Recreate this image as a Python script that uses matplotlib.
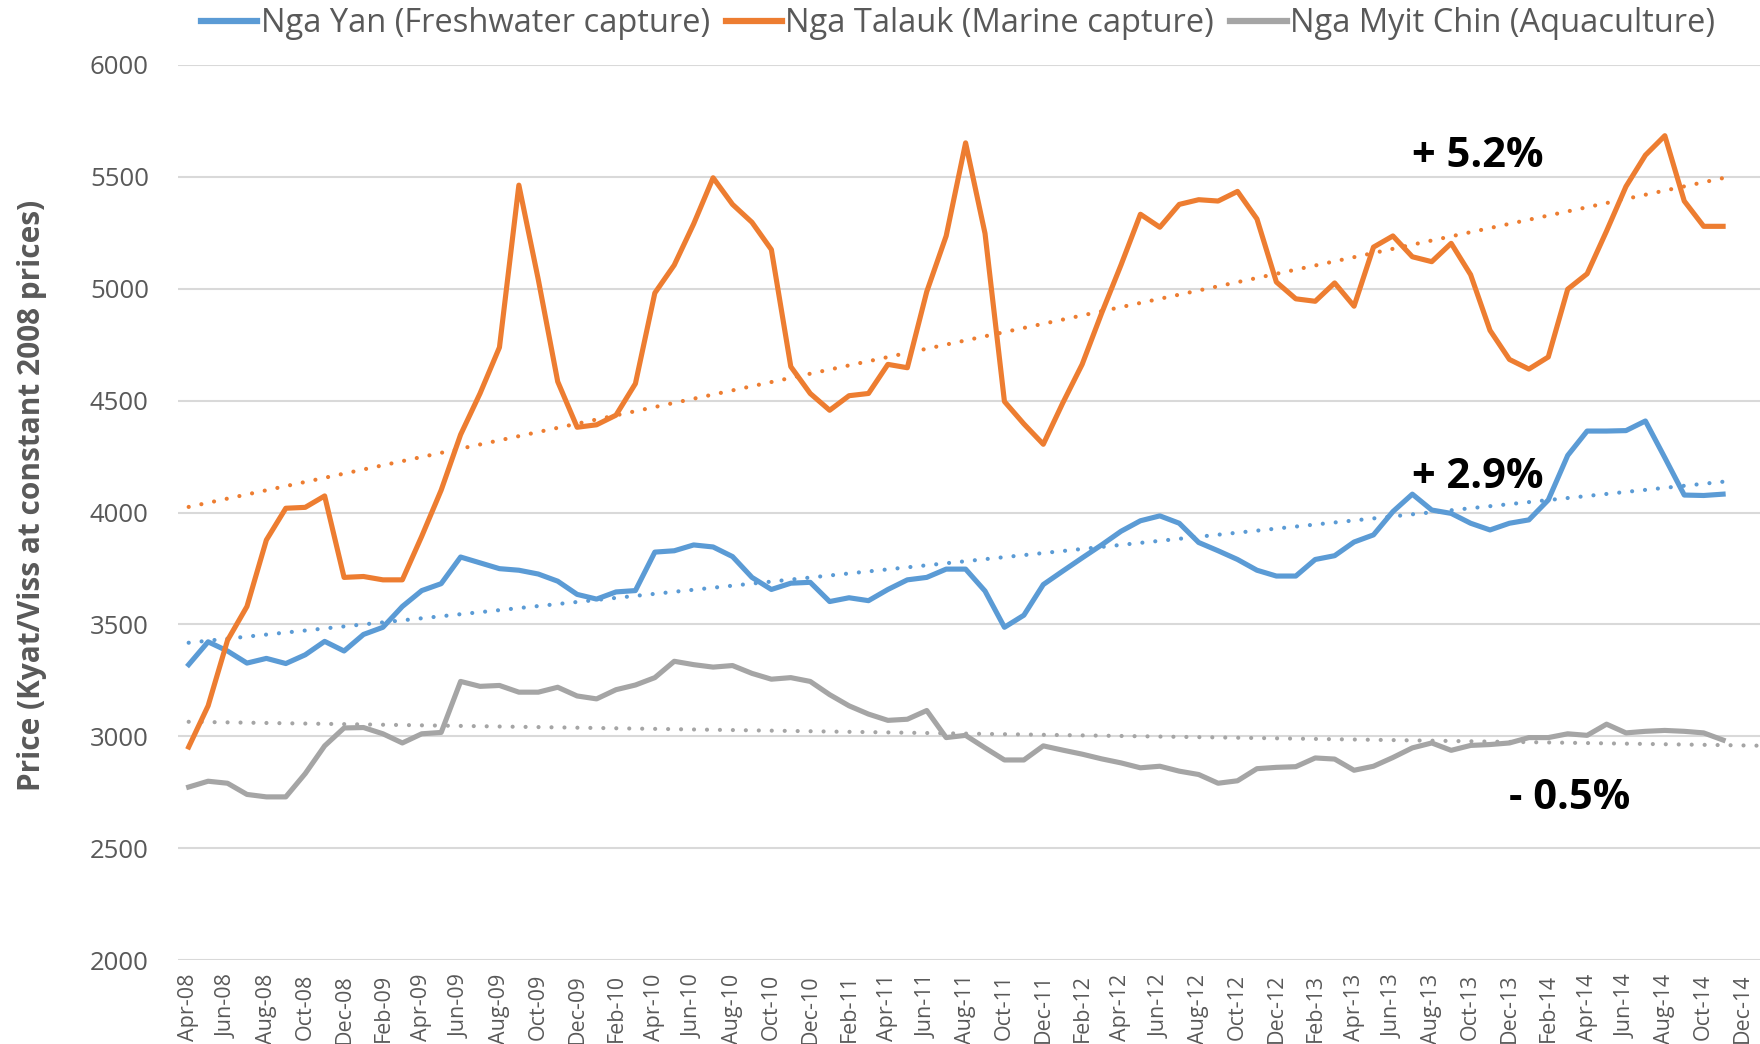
import numpy as np
import matplotlib.pyplot as plt

# monthly prices, Apr-08 .. Nov-14 (Kyat/Viss, constant 2008 prices)
nga_yan = [3320, 3422, 3381, 3327, 3348, 3325, 3364, 3424, 3381, 3455,
           3487, 3580, 3651, 3682, 3801, 3775, 3749, 3742, 3725, 3693,
           3634, 3613, 3645, 3651, 3823, 3829, 3855, 3846, 3803, 3710,
           3656, 3684, 3688, 3602, 3619, 3606, 3656, 3699, 3710, 3747,
           3747, 3649, 3487, 3541, 3678, 3738, 3797, 3855, 3916, 3963,
           3985, 3952, 3866, 3829, 3790, 3742, 3716, 3716, 3790, 3807,
           3868, 3900, 4004, 4082, 4011, 3996, 3952, 3922, 3952, 3967,
           4056, 4255, 4364, 4364, 4366, 4409, 4245, 4078, 4076, 4082]

nga_talauk = [2952, 3136, 3429, 3580, 3877, 4019, 4023, 4074, 3710, 3714,
              3699, 3699, 3894, 4100, 4348, 4532, 4738, 5463, 5041, 4585,
              4381, 4392, 4435, 4576, 4981, 5106, 5290, 5496, 5377, 5297,
              5175, 4652, 4532, 4457, 4522, 4532, 4662, 4647, 4987, 5236,
              5652, 5247, 4496, 4396, 4305, 4489, 4662, 4890, 5106, 5333,
              5275, 5377, 5398, 5392, 5435, 5312, 5030, 4955, 4944, 5026,
              4922, 5186, 5236, 5143, 5121, 5203, 5063, 4814, 4684, 4641,
              4695, 4998, 5067, 5258, 5457, 5597, 5684, 5392, 5279, 5279]

nga_myit_chin = [2773, 2799, 2790, 2740, 2729, 2729, 2833, 2957, 3037, 3039,
                 3011, 2970, 3011, 3017, 3245, 3223, 3227, 3197, 3197, 3219,
                 3180, 3167, 3208, 3229, 3262, 3335, 3320, 3309, 3316, 3281,
                 3255, 3262, 3245, 3186, 3136, 3099, 3071, 3076, 3115, 2994,
                 3004, 2948, 2894, 2894, 2957, 2938, 2920, 2899, 2881, 2859,
                 2866, 2844, 2829, 2790, 2801, 2855, 2861, 2864, 2903, 2898,
                 2848, 2866, 2905, 2948, 2970, 2937, 2959, 2963, 2970, 2994,
                 2994, 3011, 3004, 3054, 3015, 3022, 3026, 3022, 3015, 2983]

tick_labels = ["Apr-08", "Jun-08", "Aug-08", "Oct-08", "Dec-08",
               "Feb-09", "Apr-09", "Jun-09", "Aug-09", "Oct-09", "Dec-09",
               "Feb-10", "Apr-10", "Jun-10", "Aug-10", "Oct-10", "Dec-10",
               "Feb-11", "Apr-11", "Jun-11", "Aug-11", "Oct-11", "Dec-11",
               "Feb-12", "Apr-12", "Jun-12", "Aug-12", "Oct-12", "Dec-12",
               "Feb-13", "Apr-13", "Jun-13", "Aug-13", "Oct-13", "Dec-13",
               "Feb-14", "Apr-14", "Jun-14", "Aug-14", "Oct-14", "Dec-14"]

series_names = ["Nga Yan (Freshwater capture)", "Nga Talauk (Marine capture)",
                "Nga Myit Chin (Aquaculture)"]
growth_labels = ["+ 2.9%", "+ 5.2%", "- 0.5%"]

colors = ["#5B9BD5", "#ED7D31", "#A5A5A5"]
text_grey = "#595959"

plt.rcParams['font.family'] = ['Open Sans', 'DejaVu Sans']

fig = plt.figure(figsize=(17.6, 10.44), dpi=100)
ax = fig.add_axes([178 / 1760, 1 - 960 / 1044, 1 - 178 / 1760, (960 - 65) / 1044])

x = np.arange(len(nga_yan))
all_series = [nga_yan, nga_talauk, nga_myit_chin]
trend_ends = [x[-1], x[-1], x[-1] + 2]

for s, c, name, xe in zip(all_series, colors, series_names, trend_ends):
    ax.plot(x, s, color=c, lw=3.7, label=name, solid_joinstyle='round', zorder=3)
    # linear trendline like excel
    k, b = np.polyfit(x, s, 1)
    xt = np.array([0, xe])
    ax.plot(xt, k * xt + b, color=c, lw=3.0, linestyle=(0, (0.01, 3.1)),
            dash_capstyle='round', zorder=2)

ax.text(63.0, 5544, growth_labels[1], fontsize=30, fontweight='bold', ha='left', va='baseline')
ax.text(63.0, 4108, growth_labels[0], fontsize=30, fontweight='bold', ha='left', va='baseline')
ax.text(68.0, 2676, growth_labels[2], fontsize=30, fontweight='bold', ha='left', va='baseline')

ax.set_ylim(2000, 6000)
ax.set_xlim(-0.55, 80.9)
ax.set_yticks(np.arange(2000, 6001, 500))
ax.set_xticks(np.arange(0, 81, 2))
ax.set_xticklabels(tick_labels, rotation=90)
ax.grid(axis='y', color='#D9D9D9', lw=1.5)
ax.set_axisbelow(True)
for sp in ax.spines.values():
    sp.set_visible(False)
ax.tick_params(axis='y', length=0, pad=21, labelsize=18.5, labelcolor=text_grey)
ax.tick_params(axis='x', length=0, pad=10, labelsize=15.5, labelcolor=text_grey)

fig.text(32 / 1760, 1 - 495 / 1044, "Price (Kyat/Viss at constant 2008 prices)",
         rotation=90, ha='center', va='center', fontsize=21.4, fontweight='bold', color=text_grey)

leg = fig.legend(loc='center', bbox_to_anchor=(958 / 1760, 1 - 24 / 1044), ncol=3,
                 frameon=False, fontsize=23.5, handlelength=1.72, handletextpad=0.1,
                 columnspacing=0.5, borderpad=0)
for t in leg.get_texts():
    t.set_color(text_grey)
for h in leg.get_lines():
    h.set_linewidth(4.5)

plt.savefig("out.png", dpi=100)
